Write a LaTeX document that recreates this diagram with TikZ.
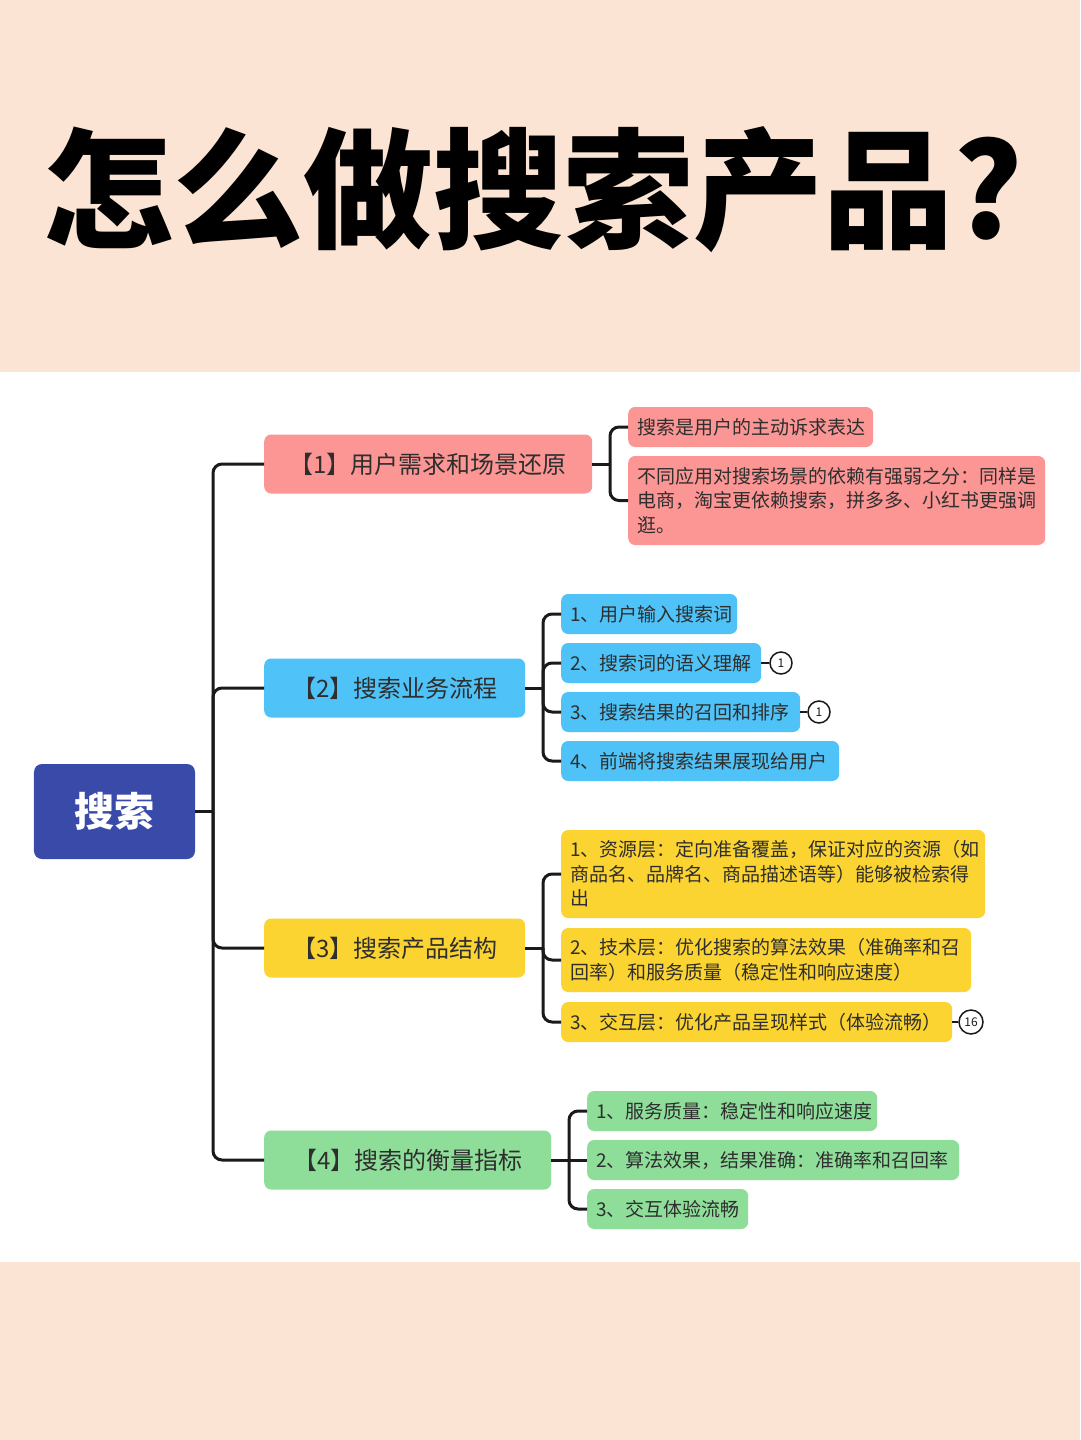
\documentclass[tikz,border=0pt]{standalone}
\usepackage{fontspec}
\setmainfont{Noto Sans CJK SC}
\definecolor{peach}{HTML}{FCE4D4}
\definecolor{linec}{HTML}{1A1A1A}
\definecolor{txt}{HTML}{2E2E2E}
\definecolor{rootc}{HTML}{3A4AA8}
\definecolor{pinkc}{HTML}{FB9694}
\definecolor{bluec}{HTML}{4FC3F7}
\definecolor{yellowc}{HTML}{FBD432}
\definecolor{greenc}{HTML}{8EDE9A}
\begin{document}
\begin{tikzpicture}[x=1bp,y=-1bp,
  conn/.style={line width=3bp, draw=linec, rounded corners=9bp},
  lvone/.style={anchor=west, rounded corners=7bp, minimum height=59bp, inner sep=0pt,
    font=\fontsize{24bp}{28bp}\selectfont, text=txt},
  leaf/.style={anchor=west, rounded corners=7bp, inner xsep=9bp, inner ysep=0pt, align=left,
    font=\fontsize{19bp}{24.5bp}\selectfont, text=txt, minimum height=40bp},
  badge/.style={circle, draw=linec, line width=1.5bp, fill=white, inner sep=0pt,
    minimum size=22bp, font=\fontsize{12bp}{12bp}\selectfont, text=linec},
  bline/.style={line width=2bp, draw=linec}]
\useasboundingbox (0,0) rectangle (1080,1440);
\fill[peach] (0,0) rectangle (1080,372);
\fill[white] (0,372) rectangle (1080,1262);
\fill[peach] (0,1262) rectangle (1080,1440);

% title
\node[font=\bfseries\fontsize{130bp}{130bp}\selectfont, text=black, inner sep=0pt] (title) at (533,190) {怎么做搜索产品?};

% root
\node[fill=rootc, rounded corners=8bp, minimum width=161bp, minimum height=95bp, inner sep=0pt,
  text=white, font=\bfseries\fontsize{40bp}{44bp}\selectfont] (root) at (114.5,811.5) {搜索};

% level one
\node[lvone, fill=pinkc, minimum width=328bp] (n1) at (264,464) {【1】用户需求和场景还原};
\node[lvone, fill=bluec, minimum width=261bp] (n2) at (264,688) {【2】搜索业务流程};
\node[lvone, fill=yellowc, minimum width=261bp] (n3) at (264,948) {【3】搜索产品结构};
\node[lvone, fill=greenc, minimum width=287bp] (n4) at (264,1160) {【4】搜索的衡量指标};

\coordinate (T) at (213,811.5);
\draw[conn] (root.east) -- (T);
\draw[conn] (T) |- (n1.west);
\draw[conn] (T) |- (n2.west);
\draw[conn] (T) |- (n3.west);
\draw[conn] (T) |- (n4.west);

% pink children
\node[leaf, fill=pinkc, text width=227bp] (p1) at (628,427) {搜索是用户的主动诉求表达};
\node[leaf, fill=pinkc, text width=399bp, minimum height=89bp] (p2) at (628,500.5)
  {不同应用对搜索场景的依赖有强弱之分：同样是\\电商，淘宝更依赖搜索，拼多多、小红书更强调\\逛。};
\coordinate (j1) at (610,464);
\draw[conn] (n1.east) -- (j1);
\draw[conn] (j1) |- (p1.west);
\draw[conn] (j1) |- (p2.west);

% blue children
\node[leaf, fill=bluec, text width=158bp] (b1) at (561,614) {1、用户输入搜索词};
\node[leaf, fill=bluec, text width=182bp] (b2) at (561,663) {2、搜索词的语义理解};
\node[leaf, fill=bluec, text width=221bp] (b3) at (561,712) {3、搜索结果的召回和排序};
\node[leaf, fill=bluec, text width=260bp] (b4) at (561,761) {4、前端将搜索结果展现给用户};
\coordinate (j2) at (543,688);
\draw[conn] (n2.east) -- (j2);
\draw[conn] (j2) |- (b1.west);
\draw[conn] (j2) |- (b2.west);
\draw[conn] (j2) |- (b3.west);
\draw[conn] (j2) |- (b4.west);
\node[badge] (bd2) at (781,663) {1};
\node[badge] (bd3) at (819,712) {1};
\draw[bline] (b2.east) -- (bd2.west);
\draw[bline] (b3.east) -- (bd3.west);

% yellow children
\node[leaf, fill=yellowc, text width=406bp, minimum height=88bp] (y1) at (561,874)
  {1、资源层：定向准备覆盖，保证对应的资源（如\\商品名、品牌名、商品描述语等）能够被检索得\\出};
\node[leaf, fill=yellowc, text width=392bp, minimum height=64bp] (y2) at (561,960)
  {2、技术层：优化搜索的算法效果（准确率和召\\回率）和服务质量（稳定性和响应速度）};
\node[leaf, fill=yellowc, text width=373bp] (y3) at (561,1022) {3、交互层：优化产品呈现样式（体验流畅）};
\coordinate (j3) at (543,948);
\draw[conn] (n3.east) -- (j3);
\draw[conn] (j3) |- (y1.west);
\draw[conn] (j3) |- (y2.west);
\draw[conn] (j3) |- (y3.west);
\node[badge, minimum size=24bp] (bd4) at (971,1022) {16};
\draw[bline] (y3.east) -- (bd4.west);

% green children
\node[leaf, fill=greenc, text width=272bp] (g1) at (587,1111) {1、服务质量：稳定性和响应速度};
\node[leaf, fill=greenc, text width=354bp] (g2) at (587,1160) {2、算法效果，结果准确：准确率和召回率};
\node[leaf, fill=greenc, text width=143bp] (g3) at (587,1209) {3、交互体验流畅};
\coordinate (j4) at (569,1160);
\draw[conn] (n4.east) -- (j4);
\draw[conn] (j4) |- (g1.west);
\draw[conn] (j4) -- (g2.west);
\draw[conn] (j4) |- (g3.west);
\end{tikzpicture}
\end{document}
